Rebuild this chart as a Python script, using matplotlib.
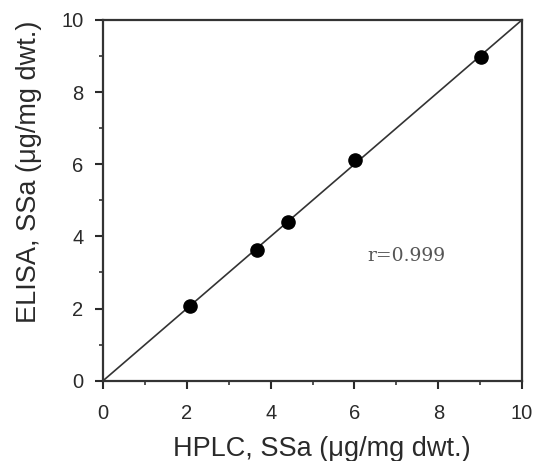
import numpy as np
import matplotlib.pyplot as plt
from matplotlib.ticker import MultipleLocator

# HPLC vs ELISA measurements (ug/mg dwt.)
hplc = [2.08, 3.68, 4.42, 6.02, 9.03]
elisa = [2.07, 3.62, 4.40, 6.13, 8.97]
fit_x = [0, 10]
fit_y = [0, 10]
r_text = "r=0.999"

plt.rcParams["font.family"] = ["Liberation Sans", "DejaVu Sans"]

fig = plt.figure(figsize=(5.45, 4.61), dpi=100)
ax = fig.add_axes([0.189, 0.174, 0.769, 0.783])

ax.plot(fit_x, fit_y, color="#333333", lw=1.2)
ax.scatter(hplc, elisa, s=90, color="black", zorder=3)

ax.set_xlim(0, 10)
ax.set_ylim(0, 10)
ax.xaxis.set_major_locator(MultipleLocator(2))
ax.yaxis.set_major_locator(MultipleLocator(2))
ax.xaxis.set_minor_locator(MultipleLocator(1))
ax.yaxis.set_minor_locator(MultipleLocator(1))
ax.tick_params(which="major", direction="out", length=6, width=1.5,
               labelsize=14.5, colors="#2a2a2a")
ax.tick_params(axis="x", which="major", pad=11)
ax.tick_params(axis="y", which="major", pad=8)
ax.tick_params(which="minor", direction="out", length=3, width=1.2, colors="#333333")
for s in ax.spines.values():
    s.set_linewidth(1.6)
    s.set_color("#333333")

ax.set_xlabel("HPLC, SSa (\u03bcg/mg dwt.)", fontsize=19.5, color="#2a2a2a")
ax.set_ylabel("ELISA, SSa (\u03bcg/mg dwt.)", fontsize=19.5, color="#2a2a2a")
ax.xaxis.set_label_coords(0.522, -0.152)
ax.yaxis.set_label_coords(-0.145, 0.58)

ax.text(6.3, 3.47, r_text, family="DejaVu Serif", fontsize=13.5, color="#555555",
        va="center")

fig.savefig("out.png", dpi=100)
